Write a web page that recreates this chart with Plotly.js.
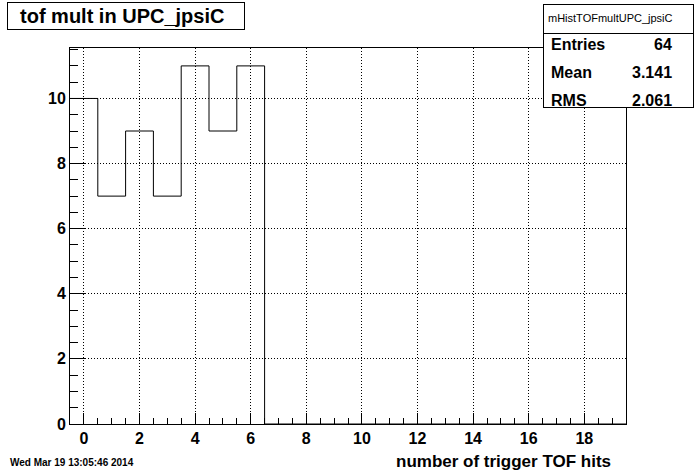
<!DOCTYPE html>
<html><head><meta charset="utf-8">
<script src="https://cdn.plot.ly/plotly-3.0.1.min.js"></script>
<style>html,body{margin:0;padding:0;background:#fff}#plot{width:696px;height:472px}</style>
</head><body><div id="plot"></div>
<script>
// Data
const bins = [0,1,2,3,4,5,6,7,8,9,10,11,12,13,14,15,16,17,18,19];
const counts = [10,7,9,7,11,9,11,0,0,0,0,0,0,0,0,0,0,0,0,0];
const histName = "mHistTOFmultUPC_jpsiC";
const titleText = "tof mult in UPC_jpsiC";
const xTitle = "number of trigger TOF hits";
const statLabels = ["Entries","Mean","RMS"];
const statValues = ["64","3.141","2.061"];
const dateText = "Wed Mar 19 13:05:46 2014";

// step outline from bin edges
const xs = bins.map(b => b - 0.5).concat([bins[bins.length-1] + 0.5]);
const ys = counts.concat([counts[counts.length-1]]);

const W = 696, H = 472;
const L = 69.5, R = 626.5, T = 47.5, B = 424.5;
const px = v => (v - L) / (R - L);
const py = v => (B - v) / (B - T);
const F = "Liberation Sans, Arial, sans-serif";

const ann = [
  // title box
  {xref:'paper', yref:'paper', x:px(6), y:py(1), xanchor:'left', yanchor:'top', showarrow:false, text:' ',
   width:236, height:26, bgcolor:'white', bordercolor:'black', borderwidth:1, borderpad:0},
  {xref:'paper', yref:'paper', x:px(17), y:py(15), xanchor:'left', yanchor:'middle', showarrow:false, text:titleText, font:{family:F, size:20, color:'black', weight:'bold'}},
  // stats box: header part and body part
  {xref:'paper', yref:'paper', x:px(543), y:py(32), xanchor:'left', yanchor:'top', showarrow:false, text:' ',
   width:149, height:73, bgcolor:'white', bordercolor:'black', borderwidth:1, borderpad:0},
  {xref:'paper', yref:'paper', x:px(543), y:py(3), xanchor:'left', yanchor:'top', showarrow:false, text:' ',
   width:149, height:28, bgcolor:'white', bordercolor:'black', borderwidth:1, borderpad:0},
  {xref:'paper', yref:'paper', x:px(546), y:py(17), xanchor:'left', yanchor:'middle', showarrow:false, text:histName, font:{family:F, size:11, color:'black'}},
  {xref:'paper', yref:'paper', x:px(613), y:py(462), xanchor:'right', yanchor:'middle', showarrow:false, text:xTitle, font:{family:F, size:17, color:'black', weight:'bold'}},
  {xref:'paper', yref:'paper', x:px(7), y:py(463), xanchor:'left', yanchor:'middle', showarrow:false, text:dateText, font:{family:F, size:10, color:'black', weight:'bold'}}
];
const rowsY = [44, 72, 100];
statLabels.forEach((s, i) => {
  ann.push({xref:'paper', yref:'paper', x:px(549), y:py(rowsY[i]), xanchor:'left', yanchor:'middle', showarrow:false, text:s, font:{family:F, size:16, color:'black', weight:'bold'}});
  ann.push({xref:'paper', yref:'paper', x:px(675), y:py(rowsY[i]), xanchor:'right', yanchor:'middle', showarrow:false, text:statValues[i], font:{family:F, size:16, color:'black', weight:'bold'}});
});

const axisCommon = {
  showline:true, linecolor:'black', linewidth:1, mirror:true,
  ticks:'inside', tickcolor:'black', tickwidth:1,
  showgrid:true, gridcolor:'black', griddash:'1px,2px', gridwidth:1,
  zeroline:false,
  tickfont:{family:F, size:16, color:'black', weight:'bold'}
};

Plotly.newPlot('plot', [{
  type:'scatter', mode:'lines', x:xs, y:ys,
  line:{shape:'hv', color:'black', width:1}, hoverinfo:'none', cliponaxis:false
}], {
  width:W, height:H,
  margin:{l:L, r:W-R, t:T, b:H-B, pad:0},
  paper_bgcolor:'white', plot_bgcolor:'white', showlegend:false,
  xaxis: Object.assign({}, axisCommon, {range:[-0.5, 19.5], tick0:0, dtick:2, ticklen:11,
    minor:{dtick:0.5, tick0:0, ticks:'inside', ticklen:6, tickcolor:'black', showgrid:false}}),
  yaxis: Object.assign({}, axisCommon, {range:[0, 11.55], tick0:0, dtick:2, ticklen:15,
    minor:{dtick:0.5, tick0:0, ticks:'inside', ticklen:8, tickcolor:'black', showgrid:false}}),
  annotations: ann
}, {staticPlot:true});
</script></body></html>
